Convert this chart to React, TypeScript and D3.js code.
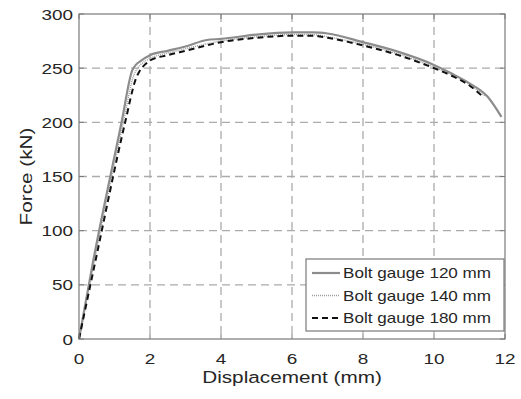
import React from 'react';
import * as d3 from 'd3';

// Force–displacement curves for three bolt gauges
const gauge120X = [0, 0.4, 1.2, 1.5, 1.6, 1.75, 2, 2.5, 3, 3.6, 4, 5, 6, 6.6, 7, 8, 9, 10, 10.5, 11, 11.5, 11.9];
const gauge120Y = [0, 72, 200, 248, 253, 257, 262, 266, 270, 276, 277, 281, 283, 283, 282, 274, 265, 253, 245, 236, 224, 205];

const gauge140X = [0, 0.42, 1.25, 1.55, 1.65, 1.8, 2, 2.5, 3, 4, 5, 6, 6.6, 7, 8, 9, 10, 10.5, 11, 11.45];
const gauge140Y = [0, 70, 200, 244, 250, 255, 259, 264, 268, 275, 279, 281, 281, 279, 272, 263, 251, 244, 235, 224];

const gauge180X = [0, 0.45, 1.3, 1.6, 1.7, 1.85, 2, 2.5, 3, 4, 5, 6, 6.6, 7, 8, 9, 10, 10.5, 11, 11.4];
const gauge180Y = [0, 70, 200, 240, 247, 253, 257, 262, 266, 274, 278, 280, 280, 278, 271, 262, 250, 243, 234, 223];

const seriesNames = ['Bolt gauge 120 mm', 'Bolt gauge 140 mm', 'Bolt gauge 180 mm'];
const xTicks = [0, 2, 4, 6, 8, 10, 12];
const yTicks = [0, 50, 100, 150, 200, 250, 300];

const FONT = '"Liberation Sans", Arial, Helvetica, sans-serif';
const SX = 1.22; // glyphs in the reference are wider than Arial

const Txt = ({ x, y, size, anchor = 'start', rotate = 0, children }: any) => (
  <g transform={`translate(${x},${y}) rotate(${rotate}) scale(${SX},1)`}>
    <text x={0} y={0} fontSize={size} fontFamily={FONT} textAnchor={anchor} fill="#262626">
      {children}
    </text>
  </g>
);

const App = () => {
  const width = 521;
  const height = 399;
  const left = 79, right = 505, top = 14, bottom = 339;

  const x = d3.scaleLinear().domain([0, 12]).range([left, right]);
  const y = d3.scaleLinear().domain([0, 300]).range([bottom, top]);

  const line = d3.line<[number, number]>()
    .x(d => x(d[0]))
    .y(d => y(d[1]))
    .curve(d3.curveMonotoneX);

  const zip = (xs: number[], ys: number[]) => xs.map((v, i) => [v, ys[i]] as [number, number]);

  const styles = [
    { stroke: '#8c8c8c', width: 2.2, dash: 'none' },
    { stroke: '#9a9a9a', width: 1.4, dash: '1,1' },
    { stroke: '#111', width: 2, dash: '6,4' },
  ];
  const series = [zip(gauge120X, gauge120Y), zip(gauge140X, gauge140Y), zip(gauge180X, gauge180Y)];

  const legX = 306, legY = 259, legW = 198, legH = 72;

  return (
    <svg width={width} height={height} style={{ position: 'absolute', left: 0, top: 0 }}>
      <rect width={width} height={height} fill="#fff" />

      {/* grid */}
      {xTicks.slice(1, -1).map(t => (
        <line key={'gx' + t} x1={x(t)} x2={x(t)} y1={top} y2={bottom}
          stroke="#ababab" strokeWidth={1.3} strokeDasharray="8,5" />
      ))}
      {yTicks.slice(1, -1).map(t => (
        <line key={'gy' + t} x1={left} x2={right} y1={y(t)} y2={y(t)}
          stroke="#ababab" strokeWidth={1.3} strokeDasharray="8,5" />
      ))}

      {/* curves */}
      {series.map((s, i) => (
        <path key={i} d={line(s) || ''} fill="none" stroke={styles[i].stroke}
          strokeWidth={styles[i].width} strokeDasharray={styles[i].dash} strokeLinejoin="round" />
      ))}

      {/* axes box and ticks */}
      <rect x={left} y={top} width={right - left} height={bottom - top} fill="none" stroke="#7a7a7a" strokeWidth={1.2} />
      {xTicks.map(t => (
        <g key={'tx' + t}>
          <line x1={x(t)} x2={x(t)} y1={bottom} y2={bottom - 5} stroke="#7a7a7a" />
          <line x1={x(t)} x2={x(t)} y1={top} y2={top + 5} stroke="#7a7a7a" />
          <Txt x={x(t)} y={364} size={15.5} anchor="middle">{t}</Txt>
        </g>
      ))}
      {yTicks.map(t => (
        <g key={'ty' + t}>
          <line x1={left} x2={left + 5} y1={y(t)} y2={y(t)} stroke="#7a7a7a" />
          <line x1={right} x2={right - 5} y1={y(t)} y2={y(t)} stroke="#7a7a7a" />
          <Txt x={73} y={y(t) + 5.5} size={15.5} anchor="end">{t}</Txt>
        </g>
      ))}

      <Txt x={(left + right) / 2} y={383} size={17} anchor="middle">Displacement (mm)</Txt>
      <Txt x={32} y={(top + bottom) / 2} size={17} anchor="middle" rotate={-90}>Force (kN)</Txt>

      {/* legend */}
      <rect x={legX} y={legY} width={legW} height={legH} fill="#fff" stroke="#7a7a7a" strokeWidth={1.2} />
      {seriesNames.map((name, i) => {
        const cy = legY + 14 + i * 22.5;
        return (
          <g key={name}>
            <line x1={312} x2={340} y1={cy} y2={cy} stroke={styles[i].stroke}
              strokeWidth={styles[i].width} strokeDasharray={styles[i].dash} />
            <Txt x={343} y={cy + 5} size={14} anchor="start">{name}</Txt>
          </g>
        );
      })}
    </svg>
  );
};

export default App;
